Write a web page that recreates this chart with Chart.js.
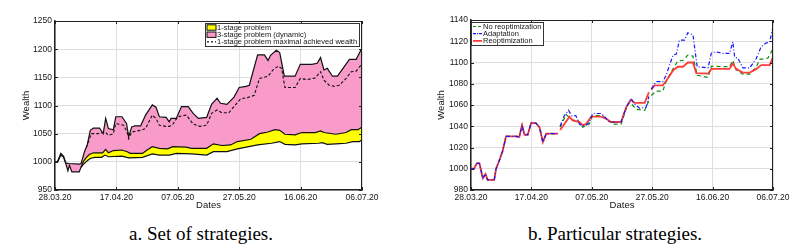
<!DOCTYPE html>
<html>
<head>
<meta charset="utf-8">
<script src="https://cdn.jsdelivr.net/npm/chart.js@4.4.0/dist/chart.umd.min.js"></script>
<style>
  body { margin: 0; background: #fff; width: 811px; height: 245px; overflow: hidden; position: relative; }
  #chartA { position: absolute; left: 0; top: 0; }
  #chartB { position: absolute; left: 400px; top: 0; }
  .cap { position: absolute; top: 224px; line-height: 20px; font-family: "Liberation Serif", "Times New Roman", serif; font-size: 19px; color: #000; white-space: nowrap; transform: translateX(-50%); }
</style>
</head>
<body>
<canvas id="chartA" width="400" height="212"></canvas>
<canvas id="chartB" width="411" height="212"></canvas>
<div class="cap" style="left:201px">a. Set of strategies.</div>
<div class="cap" style="left:615px">b. Particular strategies.</div>
<script>
// x is days since 28.03.20
const dayTicks = [0, 20, 40, 60, 80, 100];
const dateLabels = ['28.03.20', '17.04.20', '07.05.20', '27.05.20', '16.06.20', '06.07.20'];
const wealthTicksA = [950, 1000, 1050, 1100, 1150, 1200, 1250];
const wealthTicksB = [980, 1000, 1020, 1040, 1060, 1080, 1100, 1120, 1140];

// --- a. set of strategies ---
// upper edge of the 3-stage band
const topDays = [0, 0.8, 1.9, 2.8, 3.5, 4.5, 7.9, 8.5, 9.6, 10.5, 11.5, 12.5, 14.5, 15.7, 16.5, 17.4, 19, 19.8, 21.8, 23.3, 24, 25, 26, 27.9, 29.5, 31.7, 32.9, 34, 36.2, 37.2, 37.8, 39.5, 41.2, 43.4, 45, 46.7, 49.4, 51, 52.8, 53.9, 56, 58.3, 60, 62.2, 63.3, 66, 68.2, 69.4, 70.2, 72.1, 73.2, 74.7, 78.2, 79.9, 83.7, 85.4, 86.5, 87.6, 88.7, 90.4, 92, 93.7, 95.9, 98.1, 100];
const topVals = [1000, 1000, 1015, 1010, 998, 997, 996, 997, 1018, 1030, 1056, 1060, 1060, 1050, 1077, 1059, 1057, 1080, 1080, 1068, 1045, 1062, 1064, 1064, 1083, 1101, 1097, 1080, 1079, 1071, 1077, 1077, 1098, 1098, 1086, 1077, 1079, 1102, 1113, 1104, 1102, 1115, 1132, 1134, 1136, 1190, 1190, 1180, 1189, 1198, 1194, 1152, 1152, 1173, 1173, 1175, 1185, 1163, 1166, 1152, 1152, 1165, 1182, 1182, 1202];
// lower edge before the 1-stage band starts
const earlyDays = [0, 0.8, 1.9, 2.8, 3.5, 4.2, 4.7, 5.5, 7.9];
const earlyVals = [999, 999, 1012, 1008, 997, 984, 994, 982, 982];
// 1-stage band
const oneTopDays = [8.5, 9.3, 10.2, 11.2, 12.5, 15.5, 16.5, 17.4, 19, 21.8, 23.5, 24.5, 28.5, 30, 31.7, 34, 36.7, 38.3, 42.7, 44.5, 49.4, 51.6, 54.4, 57.2, 59.4, 63.8, 66.6, 69.4, 71.6, 73.2, 74.9, 78.2, 80.4, 84.8, 86.5, 87.6, 91.5, 94.8, 96.5, 98.7, 100];
const oneTopVals = [991, 1001, 1008, 1013, 1016, 1016, 1022, 1016, 1020, 1021, 1018, 1015, 1015, 1021, 1027, 1024, 1023, 1027, 1026, 1024, 1024, 1032, 1029, 1030, 1036, 1040, 1050, 1053, 1057, 1056, 1049, 1048, 1052, 1052, 1055, 1052, 1049, 1052, 1057, 1057, 1062];
const oneBotDays = [8.5, 9.3, 10.5, 11.5, 12.9, 15.2, 16.3, 17.4, 21.8, 24, 28.5, 31.7, 34, 37.3, 39.5, 44.5, 49.4, 51.6, 56, 59.4, 66, 70.5, 73.2, 74.9, 78.2, 80.4, 85.9, 87, 88.7, 91.5, 94.8, 97, 99.2, 100];
const oneBotVals = [990, 996, 1002, 1006, 1008, 1008, 1012, 1009, 1010, 1007, 1008, 1014, 1012, 1012, 1015, 1014, 1012, 1018, 1018, 1023, 1030, 1033, 1036, 1031, 1030, 1032, 1033, 1034, 1031, 1032, 1033, 1036, 1036, 1039];
// 1-stage maximal achieved wealth
const maxDays = [10.2, 11.8, 14, 16.3, 17.4, 19, 19.8, 22.3, 23.5, 24, 25, 27.9, 29.5, 31.7, 32.9, 34, 36.2, 37.3, 38.4, 40, 42.8, 45, 47.2, 49.4, 51, 52.8, 54.4, 56.6, 58.3, 60.5, 62.7, 64.9, 66.6, 69.4, 71, 72.7, 73.8, 74.9, 78.2, 79.9, 82.1, 84.8, 86.5, 87.6, 89.3, 90.9, 92.6, 94.8, 96.5, 98.1, 100];
const maxVals = [1025, 1050, 1050, 1053, 1047, 1050, 1068, 1065, 1053, 1041, 1053, 1056, 1059, 1083, 1077, 1065, 1063, 1063, 1067, 1080, 1083, 1067, 1063, 1065, 1086, 1092, 1087, 1087, 1098, 1112, 1114, 1118, 1148, 1152, 1163, 1170, 1166, 1132, 1132, 1148, 1146, 1149, 1160, 1145, 1136, 1134, 1136, 1148, 1160, 1161, 1174];

// --- b. particular strategies ---
const commonDays = [0, 1, 1.9, 2.8, 3.9, 4.8, 5.5, 7.7, 8.3, 9.4, 10.5, 11.6, 14.9, 16, 16.9, 17.7, 18.8, 19.9, 21.5, 22.7, 23.8, 24.9, 28.7];
const commonVals = [1000, 1000, 1005, 1005, 991, 995, 989.5, 989.5, 1000, 1008, 1017, 1030.5, 1030.5, 1030, 1041, 1032, 1032, 1043, 1043, 1039, 1025, 1033, 1033];
const noReoptDays = [29.5, 31.5, 33.7, 35.4, 37, 39.2, 40.3, 43.6, 45.3, 47, 49.7, 51.4, 52.5, 54.7, 57.5, 58.9, 59.3, 59.7, 61.3, 63.5, 64.6, 66.9, 68.5, 70.2, 71.8, 73.5, 74.9, 78.5, 79.6, 85.6, 86.7, 87.8, 90, 92.3, 94.5, 95.6, 98.3, 100];
const noReoptVals = [1039, 1051, 1045.5, 1045.5, 1039, 1042, 1050, 1050, 1045.5, 1042, 1042, 1056.5, 1063, 1056, 1055, 1064, null, 1069, 1073, 1073, 1082, 1094, 1101.5, 1102, 1107, 1106, 1088, 1086, 1096.5, 1096, 1102, 1093, 1089, 1089, 1096, 1103, 1104, 1113];
const adaptDays = [29.5, 30.9, 32.3, 33.3, 34.7, 35.9, 37, 38.1, 39.2, 40.3, 43.1, 44.2, 45.9, 49.7, 51.4, 53, 54.1, 55.8, 58, 58.9, 59.3, 59.7, 60.8, 61.5, 63.5, 64.6, 66.9, 68, 69, 70.7, 71.8, 73.5, 74.9, 78.5, 79.6, 81.2, 83.4, 85.6, 86.7, 87.3, 88.4, 90, 92.3, 94.5, 96.1, 97.8, 98.9, 100];
const adaptVals = [1040, 1050, 1055, 1050, 1050, 1042, 1040, 1041, 1044, 1052, 1052, 1049, 1044, 1044, 1058, 1066, 1061, 1057, 1058, 1068, null, 1075, 1080, 1082, 1082, 1088, 1107, 1108, 1121, 1121, 1128, 1126, 1096, 1095, 1109, 1110, 1108.5, 1108.5, 1119.5, 1105, 1104, 1095, 1095, 1104, 1115, 1118.5, 1119, 1134];
const reoptDays = [29.5, 30.9, 32.6, 33.7, 35.9, 37, 38.1, 39.8, 43.1, 44.8, 46.4, 49.7, 51.4, 53, 54.1, 57.5, 58.9, 59.3, 59.7, 60.8, 63.5, 64.6, 66.9, 68.5, 70.2, 71.8, 73.5, 74.6, 78.5, 79.6, 85.6, 86.7, 87.8, 90, 92.3, 94.5, 96.1, 98.9, 100];
const reoptVals = [1036.5, 1042, 1049, 1045.5, 1044, 1041, 1042, 1049, 1049, 1047, 1044, 1044, 1058, 1065, 1062, 1062, 1072, null, 1074.5, 1078.5, 1078.5, 1082.5, 1092.5, 1096, 1096, 1100, 1100, 1090, 1089.5, 1094, 1094, 1099, 1094, 1090.5, 1090.5, 1094, 1097.5, 1097.5, 1105];

const pts = (days, vals) => days.map((d, i) => ({ x: d, y: vals[i] }));
// all three strategies coincide until the first reoptimization
const withCommon = (days, vals) => pts(commonDays.concat([29.1], days), commonVals.concat([null], vals));

Chart.defaults.font.family = "'Liberation Sans', Arial, sans-serif";
Chart.defaults.font.size = 8.5;
Chart.defaults.color = '#151515';

const TXT = '#151515';
const GRID = '#dedede';

// black frame on top/right plus inward tick marks, matlab style
const framePlugin = {
    id: 'frame',
    afterDatasetsDraw(chart) {
        const { ctx, chartArea: a, scales } = chart;
        ctx.save();
        ctx.strokeStyle = '#222';
        ctx.lineWidth = 1;
        ctx.beginPath();
        ctx.moveTo(a.left, a.top + 0.5); ctx.lineTo(a.right, a.top + 0.5);
        ctx.moveTo(a.right - 0.5, a.top); ctx.lineTo(a.right - 0.5, a.bottom);
        scales.x.ticks.forEach(t => {
            const px = Math.round(scales.x.getPixelForValue(t.value)) + 0.5;
            ctx.moveTo(px, a.top); ctx.lineTo(px, a.top + 3);
            ctx.moveTo(px, a.bottom); ctx.lineTo(px, a.bottom - 3);
        });
        scales.y.ticks.forEach(t => {
            const py = Math.round(scales.y.getPixelForValue(t.value)) + 0.5;
            ctx.moveTo(a.left, py); ctx.lineTo(a.left + 3, py);
            ctx.moveTo(a.right, py); ctx.lineTo(a.right - 3, py);
        });
        ctx.stroke();
        ctx.restore();
    }
};

// legend box drawn inside the plot
const boxLegend = {
    id: 'boxLegend',
    afterDraw(chart, args, opts) {
        const { ctx, chartArea: a } = chart;
        ctx.save();
        ctx.font = "7.5px 'Liberation Sans', Arial, sans-serif";
        const textW = Math.max(...opts.items.map(it => ctx.measureText(it.label).width));
        const w = Math.round(12 + textW + 2), h = 23;
        const x0 = opts.side === 'right' ? Math.round(a.right - 3 - w) : Math.round(a.left);
        const y0 = Math.round(a.top + 2);
        ctx.fillStyle = '#fff';
        ctx.fillRect(x0, y0, w, h);
        ctx.strokeStyle = '#333';
        ctx.lineWidth = 1;
        ctx.strokeRect(x0 + 0.5, y0 + 0.5, w, h);
        opts.items.forEach((it, i) => {
            const cy = y0 + 4.5 + i * 7.2;
            if (it.box) {
                ctx.fillStyle = it.box;
                ctx.fillRect(x0 + 2, cy - 2.7, 9, 5.4);
                ctx.strokeStyle = '#111';
                ctx.strokeRect(x0 + 2, cy - 2.7, 9, 5.4);
            } else {
                ctx.strokeStyle = it.color;
                ctx.lineWidth = it.width;
                ctx.setLineDash(it.dash);
                ctx.beginPath();
                ctx.moveTo(x0 + 2, cy); ctx.lineTo(x0 + 11, cy);
                ctx.stroke();
                ctx.setLineDash([]);
                ctx.lineWidth = 1;
            }
            ctx.fillStyle = TXT;
            ctx.textBaseline = 'middle';
            ctx.fillText(it.label, x0 + 12, cy + 0.5);
        });
        ctx.restore();
    }
};

const makeScales = (yTicks, yWidth, yTitlePad) => ({
    x: {
        type: 'linear', min: 0, max: 100,
        afterBuildTicks: s => { s.ticks = dayTicks.map(v => ({ value: v })); },
        afterFit: s => { s.height = 22; },
        ticks: { callback: v => dateLabels[dayTicks.indexOf(v)], padding: 3, maxRotation: 0, color: TXT },
        grid: { color: GRID, drawTicks: false },
        border: { color: '#222', width: 1.5 },
        title: { display: true, text: 'Dates', font: { size: 9.5 }, padding: { top: 0, bottom: 1 }, color: TXT }
    },
    y: {
        min: yTicks[0], max: yTicks[yTicks.length - 1],
        afterBuildTicks: s => { s.ticks = yTicks.map(v => ({ value: v })); },
        afterFit: s => { s.width = yWidth; },
        ticks: { callback: v => String(v), padding: 3, color: TXT },
        grid: { color: GRID, drawTicks: false },
        border: { color: '#222', width: 1.5 },
        title: { display: true, text: 'Wealth', font: { size: 9.5 }, padding: { top: yTitlePad, bottom: 0 }, color: TXT }
    }
});

new Chart(document.getElementById('chartA'), {
    type: 'line',
    data: {
        datasets: [
            { label: '3-stage problem (dynamic)', data: pts(topDays, topVals), borderColor: '#111', borderWidth: 1.2,
              backgroundColor: '#f99bc9', fill: 2, order: 5 },
            { label: '1-stage problem', data: pts(oneTopDays, oneTopVals), borderWidth: 0, borderColor: 'rgba(0,0,0,0)',
              backgroundColor: '#ffff00', fill: 3, order: 4 },
            { label: 'lower edge', data: pts(earlyDays.concat(oneTopDays), earlyVals.concat(oneTopVals)),
              borderColor: '#111', borderWidth: 1.2, fill: false, order: 2 },
            { label: '1-stage lower', data: pts(oneBotDays, oneBotVals), borderColor: '#111', borderWidth: 1.2, fill: false, order: 3 },
            { label: '1-stage problem maximal achieved wealth', data: pts(maxDays, maxVals), borderColor: '#111', borderWidth: 1.1,
              borderDash: [3, 2], fill: false, order: 1 }
        ]
    },
    options: {
        responsive: false,
        animation: false,
        layout: { padding: { left: 0, right: 38, top: 21, bottom: 0 } },
        elements: { point: { radius: 0 }, line: { tension: 0 } },
        scales: makeScales(wealthTicksA, 55, 21),
        plugins: {
            legend: { display: false },
            tooltip: { enabled: false },
            boxLegend: {
                side: 'right',
                items: [
                    { label: '1-stage problem', box: '#ffff00' },
                    { label: '3-stage problem (dynamic)', box: '#f99bc9' },
                    { label: '1-stage problem maximal achieved wealth', color: '#111', width: 1.1, dash: [2, 2] }
                ]
            }
        }
    },
    plugins: [framePlugin, boxLegend]
});

new Chart(document.getElementById('chartB'), {
    type: 'line',
    data: {
        datasets: [
            { label: 'No reoptimization', data: withCommon(noReoptDays, noReoptVals), borderColor: '#109010', borderWidth: 1.2,
              borderDash: [4, 3], order: 3 },
            { label: 'Adaptation', data: withCommon(adaptDays, adaptVals), borderColor: '#1515ff', borderWidth: 1.2,
              borderDash: [4, 2, 1, 2], order: 1 },
            { label: 'Reoptimization', data: withCommon(reoptDays, reoptVals), borderColor: 'rgba(255,40,40,0.9)', borderWidth: 1.8,
              order: 2 }
        ]
    },
    options: {
        responsive: false,
        animation: false,
        spanGaps: false,
        layout: { padding: { left: 0, right: 38, top: 20, bottom: 0 } },
        elements: { point: { radius: 0 }, line: { tension: 0, fill: false } },
        scales: makeScales(wealthTicksB, 71, 36),
        plugins: {
            legend: { display: false },
            tooltip: { enabled: false },
            boxLegend: {
                side: 'left',
                items: [
                    { label: 'No reoptimization', color: '#109010', width: 1.2, dash: [3, 2] },
                    { label: 'Adaptation', color: '#1515ff', width: 1.2, dash: [3, 1, 1, 1] },
                    { label: 'Reoptimization', color: 'rgba(255,40,40,0.9)', width: 1.8, dash: [] }
                ]
            }
        }
    },
    plugins: [framePlugin, boxLegend]
});
</script>
</body>
</html>
